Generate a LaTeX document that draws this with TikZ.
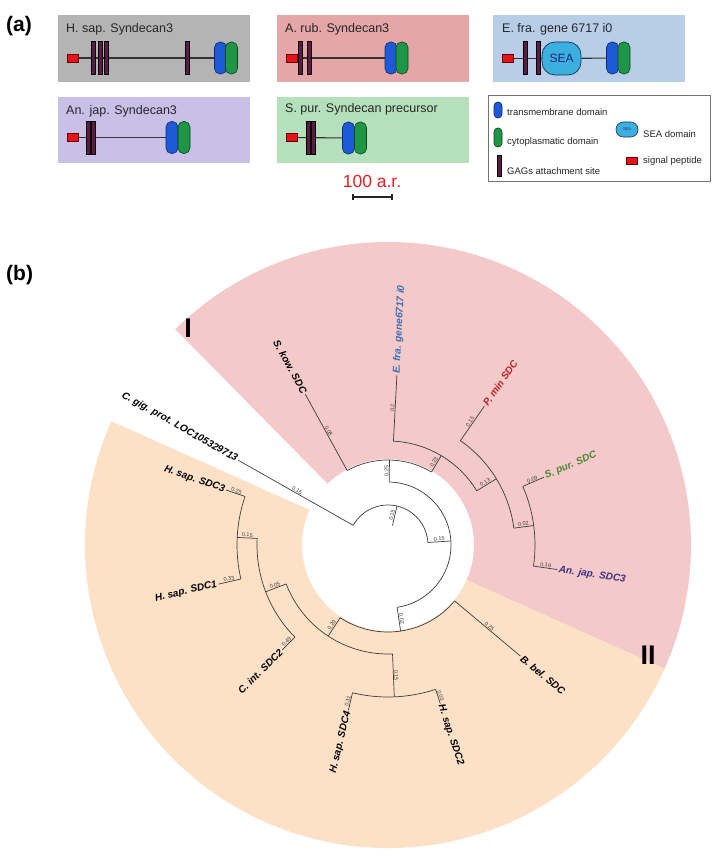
\documentclass[tikz,border=0pt]{standalone}
\usepackage{fontspec}
\setmainfont{Liberation Sans}
\usetikzlibrary{calc}
\definecolor{boxgray}{RGB}{180,180,180}
\definecolor{boxpink}{RGB}{228,166,166}
\definecolor{boxblue}{RGB}{184,206,232}
\definecolor{boxlav}{RGB}{200,192,230}
\definecolor{boxgreen}{RGB}{180,224,188}
\definecolor{secpink}{RGB}{243,201,201}
\definecolor{secorange}{RGB}{252,225,199}
\definecolor{gagc}{RGB}{95,25,70}
\definecolor{tmc}{RGB}{30,90,215}
\definecolor{tmd}{RGB}{15,40,110}
\definecolor{cytc}{RGB}{30,150,70}
\definecolor{cytd}{RGB}{10,70,30}
\definecolor{spc}{RGB}{230,20,25}
\definecolor{seac}{RGB}{60,175,225}
\definecolor{sead}{RGB}{20,50,80}
\definecolor{treec}{RGB}{60,60,60}
\definecolor{efrac}{RGB}{60,110,180}
\definecolor{pminc}{RGB}{190,35,45}
\definecolor{spurc}{RGB}{75,135,50}
\definecolor{anjapc}{RGB}{60,45,130}
\definecolor{scalec}{RGB}{235,30,35}

\newcommand{\tarc}[3]{\draw[tl] (#2:#1) arc[start angle=#2, end angle=#3, radius=#1];}
\newcommand{\tbr}[5]{%
  \draw[tl] (#1:#2) -- (#1:#3);
  \pgfmathsetmacro{\tmid}{(#2+#3)/2}%
  \pgfmathtruncatemacro{\tright}{cos(#1)>=0 ? 1 : 0}%
  \ifnum\tright=1
    \node[bl, rotate=#1, anchor=south] (#5) at (#1:\tmid) {#4};
  \else
    \node[bl, rotate=#1+180, anchor=south] (#5) at (#1:\tmid) {#4};
  \fi}
\newcommand{\tleaf}[5]{%
  \pgfmathtruncatemacro{\tright}{cos(#1)>=0 ? 1 : 0}%
  \ifnum\tright=1
    \node[lf, text=#4, rotate=#1, anchor=west] (#5) at (#1:#2) {#3};
  \else
    \node[lf, text=#4, rotate=#1+180, anchor=east] (#5) at (#1:#2) {#3};
  \fi}

\begin{document}
\begin{tikzpicture}[x=1pt,y=1pt,
  abox/.style={anchor=north west, inner sep=0, minimum width=192, minimum height=67},
  ttl/.style={anchor=base west, inner sep=0, font=\fontsize{12.5}{14}\selectfont, text=black!85},
  sp/.style={draw=black!60!red, fill=spc, minimum width=11, minimum height=8, inner sep=0, line width=0.6},
  gag/.style={draw=black, fill=gagc, minimum width=3.6, minimum height=33, inner sep=0, line width=0.5},
  tm/.style={draw=tmd, fill=tmc, minimum width=12, minimum height=32, inner sep=0, rounded corners=5.5, line width=0.6},
  cyt/.style={draw=cytd, fill=cytc, minimum width=12, minimum height=32, inner sep=0, rounded corners=5.5, line width=0.6},
  sea/.style={draw=sead, fill=seac, minimum width=39, minimum height=33, inner sep=0, rounded corners=13, line width=0.7, text=sead!80!blue, font=\fontsize{12}{12}\selectfont},
  bb/.style={draw=black!80, line width=1.1},
  lg/.style={anchor=base west, inner sep=0, font=\fontsize{9.5}{11}\selectfont, text=black!85},
  tl/.style={draw=treec, line width=0.7},
  bl/.style={font=\fontsize{5.5}{6}\selectfont, text=black!75, inner sep=0.7},
  lf/.style={font=\bfseries\itshape\fontsize{10}{12}\selectfont, inner sep=1.5},
  mk/.style={font=\bfseries\fontsize{27}{27}\selectfont, inner sep=0}
]
\useasboundingbox (0,0) rectangle (721,-864);
\fill[white] (0,0) rectangle (721,-864);

% ---------------- panel (a)
\node[anchor=base west, inner sep=0, font=\bfseries\fontsize{21}{21}\selectfont] (pa) at (6,-32) {(a)};

\node[abox, fill=boxgray] (bx1) at (58,-15) {};
\node[abox, fill=boxpink] (bx2) at (277,-15) {};
\node[abox, fill=boxblue] (bx3) at (493,-15) {};
\node[abox, fill=boxlav, minimum height=66] (bx4) at (58,-97) {};
\node[abox, fill=boxgreen, minimum height=66] (bx5) at (277,-97) {};

\node[ttl] (t1) at (66,-33) {H. sap. Syndecan3};
\node[ttl] (t2) at (285,-33) {A. rub. Syndecan3};
\node[ttl] (t3) at (502,-33) {E. fra. gene 6717 i0};
\node[ttl] (t4) at (66,-114) {An. jap. Syndecan3};
\node[ttl] (t5) at (285,-113) {S. pur. Syndecan precursor};

% H. sap.
\node[sp] (h-sp) at (72.5,-58) {};
\node[tm] (h-tm) at (220.5,-58) {};
\node[cyt] (h-cy) at (231.5,-58) {};
\draw[bb] (h-sp) -- (h-tm);
\node[gag] (h-g1) at (93,-57.5) {};
\node[gag] (h-g2) at (100,-57.5) {};
\node[gag] (h-g3) at (106,-57.5) {};
\node[gag] (h-g4) at (187,-57.5) {};
% A. rub.
\node[sp] (a-sp) at (291.5,-58) {};
\node[tm] (a-tm) at (391,-58) {};
\node[cyt] (a-cy) at (402,-58) {};
\draw[bb] (a-sp) -- (a-tm);
\node[gag] (a-g1) at (300,-57.5) {};
\node[gag] (a-g2) at (309,-57.5) {};
% E. fra.
\node[sp] (e-sp) at (508,-58.5) {};
\node[sea] (e-sea) at (561.5,-58.5) {SEA};
\node[tm] (e-tm) at (612.5,-58) {};
\node[cyt] (e-cy) at (624,-58) {};
\draw[bb] (e-sp) -- (e-sea);
\draw[bb] (e-sea) -- (e-tm);
\node[gag] (e-g1) at (525,-57.5) {};
\node[gag] (e-g2) at (538,-57.5) {};
% An. jap.
\node[sp] (j-sp) at (72.5,-137.5) {};
\node[tm] (j-tm) at (172,-137.5) {};
\node[cyt] (j-cy) at (184,-137.5) {};
\draw[bb] (j-sp) -- (j-tm);
\node[gag] (j-g1) at (88,-137.5) {};
\node[gag] (j-g2) at (93,-137.5) {};
% S. pur.
\node[sp] (s-sp) at (291.5,-137.5) {};
\node[tm] (s-tm) at (348.5,-138) {};
\node[cyt] (s-cy) at (360.5,-138) {};
\draw[bb] (s-sp) -- (s-tm);
\node[gag] (s-g1) at (308,-138) {};
\node[gag] (s-g2) at (313,-138) {};

% scale bar
\node[anchor=base, inner sep=0, text=scalec, font=\fontsize{17.5}{18}\selectfont] (sc) at (372,-187) {100 a.r.};
\coordinate (sc1) at (353,-197);
\coordinate (sc2) at (392,-197);
\draw[black!85, line width=1.2] (sc1) -- (sc2);
\draw[black!85, line width=1.2] ($(sc1)+(0,3)$) -- ($(sc1)+(0,-3)$);
\draw[black!85, line width=1.2] ($(sc2)+(0,3)$) -- ($(sc2)+(0,-3)$);

% legend
\node[anchor=north west, draw=black!55, fill=white, line width=0.8, inner sep=0, minimum width=222, minimum height=86] (leg) at (488,-95) {};
\node[tm, minimum width=8, minimum height=16, rounded corners=3.8] (l-tm) at (498,-110) {};
\node[cyt, minimum width=8, minimum height=19, rounded corners=3.8] (l-cy) at (498,-137.5) {};
\node[gag, minimum width=4, minimum height=21] (l-g) at (499,-165.5) {};
\node[lg] (l-t1) at (507,-116) {transmembrane domain};
\node[lg] (l-t2) at (507,-144) {cytoplasmatic domain};
\node[lg] (l-t3) at (507,-174) {GAGs attachment site};
\node[sea, minimum width=22, minimum height=15, rounded corners=7.3, font=\fontsize{4}{4}\selectfont, line width=0.6] (l-sea) at (627,-129.5) {SEA};
\node[lg] (l-t4) at (643,-137) {SEA domain};
\node[sp, minimum width=11, minimum height=7] (l-sp) at (631.5,-160.5) {};
\node[lg] (l-t5) at (643,-163) {signal peptide};

% ---------------- panel (b)
\node[anchor=base west, inner sep=0, font=\bfseries\fontsize{21}{21}\selectfont] (pb) at (6,-280) {(b)};

\begin{scope}[shift={(388,-545)}]
  % coloured ranges
  \fill[secpink] (-24.1:86) arc[start angle=-24.1, end angle=134.6, radius=86] -- (134.6:303) arc[start angle=134.6, end angle=-24.1, radius=303] -- cycle;
  \fill[secorange] (155.9:86) arc[start angle=155.9, end angle=335.9, radius=86] -- (335.9:303) arc[start angle=335.9, end angle=155.9, radius=303] -- cycle;

  % root and first split
  \tbr{77.08}{20}{40}{0.15}{n-root}
  \tarc{40}{150.5}{3.66}
  \tbr{150.5}{40}{172}{0.15}{n-cgig}
  \tbr{3.66}{40}{63}{0.15}{n-b}
  \tarc{63}{88.98}{-81.67}
  % clade I
  \tbr{88.98}{63}{85}{0.25}{n-p}
  \tarc{85}{118.75}{59.22}
  \tbr{118.75}{85}{172}{0.08}{n-skow}
  \tbr{59.22}{85}{104}{0.23}{n-q}
  \tarc{104}{87}{31.44}
  \tbr{87}{104}{170}{0.2}{n-efra}
  \tbr{31.44}{104}{127}{0.13}{n-r}
  \tarc{127}{55.25}{7.625}
  \tbr{55.25}{127}{169}{0.15}{n-pmin}
  \tbr{7.625}{127}{147}{0.02}{n-s}
  \tarc{147}{23.5}{-8.25}
  \tbr{23.5}{147}{170}{0.09}{n-spur}
  \tbr{-8.25}{147}{171}{0.19}{n-anjap}
  % clade II
  \tbr{-81.67}{63}{87}{0.02}{n-o}
  \tarc{87}{-40}{-123.34}
  \tbr{-40}{87}{173}{0.25}{n-bbel}
  \tbr{-123.34}{87}{109}{0.29}{n-t}
  \tarc{109}{-87.625}{-159.06}
  \tbr{-87.625}{109}{152}{0.15}{n-v}
  \tarc{152}{-71.75}{-103.5}
  \tbr{-71.75}{152}{167}{0.03}{n-sdc2}
  \tbr{-103.5}{152}{170}{0.31}{n-sdc4}
  \tbr{-159.06}{109}{131}{0.05}{n-u}
  \tarc{131}{-135.25}{-182.875}
  \tbr{-135.25}{131}{149}{0.49}{n-cint}
  \tbr{-182.875}{131}{151}{0.15}{n-w}
  \tarc{151}{-167}{-198.75}
  \tbr{-167}{151}{174}{0.33}{n-sdc1}
  \tbr{-198.75}{151}{171}{0.25}{n-sdc3}

  % leaf labels
  \tleaf{150.5}{172}{C. gig. prot. LOC105329713}{black}{lf-cgig}
  \tleaf{118.75}{172}{S. kow. SDC}{black}{lf-skow}
  \tleaf{87}{170}{E. fra. gene6717 i0}{efrac}{lf-efra}
  \tleaf{55.25}{169}{P. min SDC}{pminc}{lf-pmin}
  \tleaf{23.5}{170}{S. pur. SDC}{spurc}{lf-spur}
  \tleaf{-8.25}{171}{An. jap. SDC3}{anjapc}{lf-anjap}
  \tleaf{-40}{173}{B. bel. SDC}{black}{lf-bbel}
  \tleaf{-71.75}{167}{H. sap. SDC2}{black}{lf-sdc2}
  \tleaf{-103.5}{170}{H. sap. SDC4}{black}{lf-sdc4}
  \tleaf{-135.25}{149}{C. int. SDC2}{black}{lf-cint}
  \tleaf{-167}{174}{H. sap. SDC1}{black}{lf-sdc1}
  \tleaf{-198.75}{171}{H. sap. SDC3}{black}{lf-sdc3}
\end{scope}

\node[mk] (mI) at (188,-328) {I};
\node[mk] (mII) at (648,-655) {II};
\end{tikzpicture}
\end{document}
